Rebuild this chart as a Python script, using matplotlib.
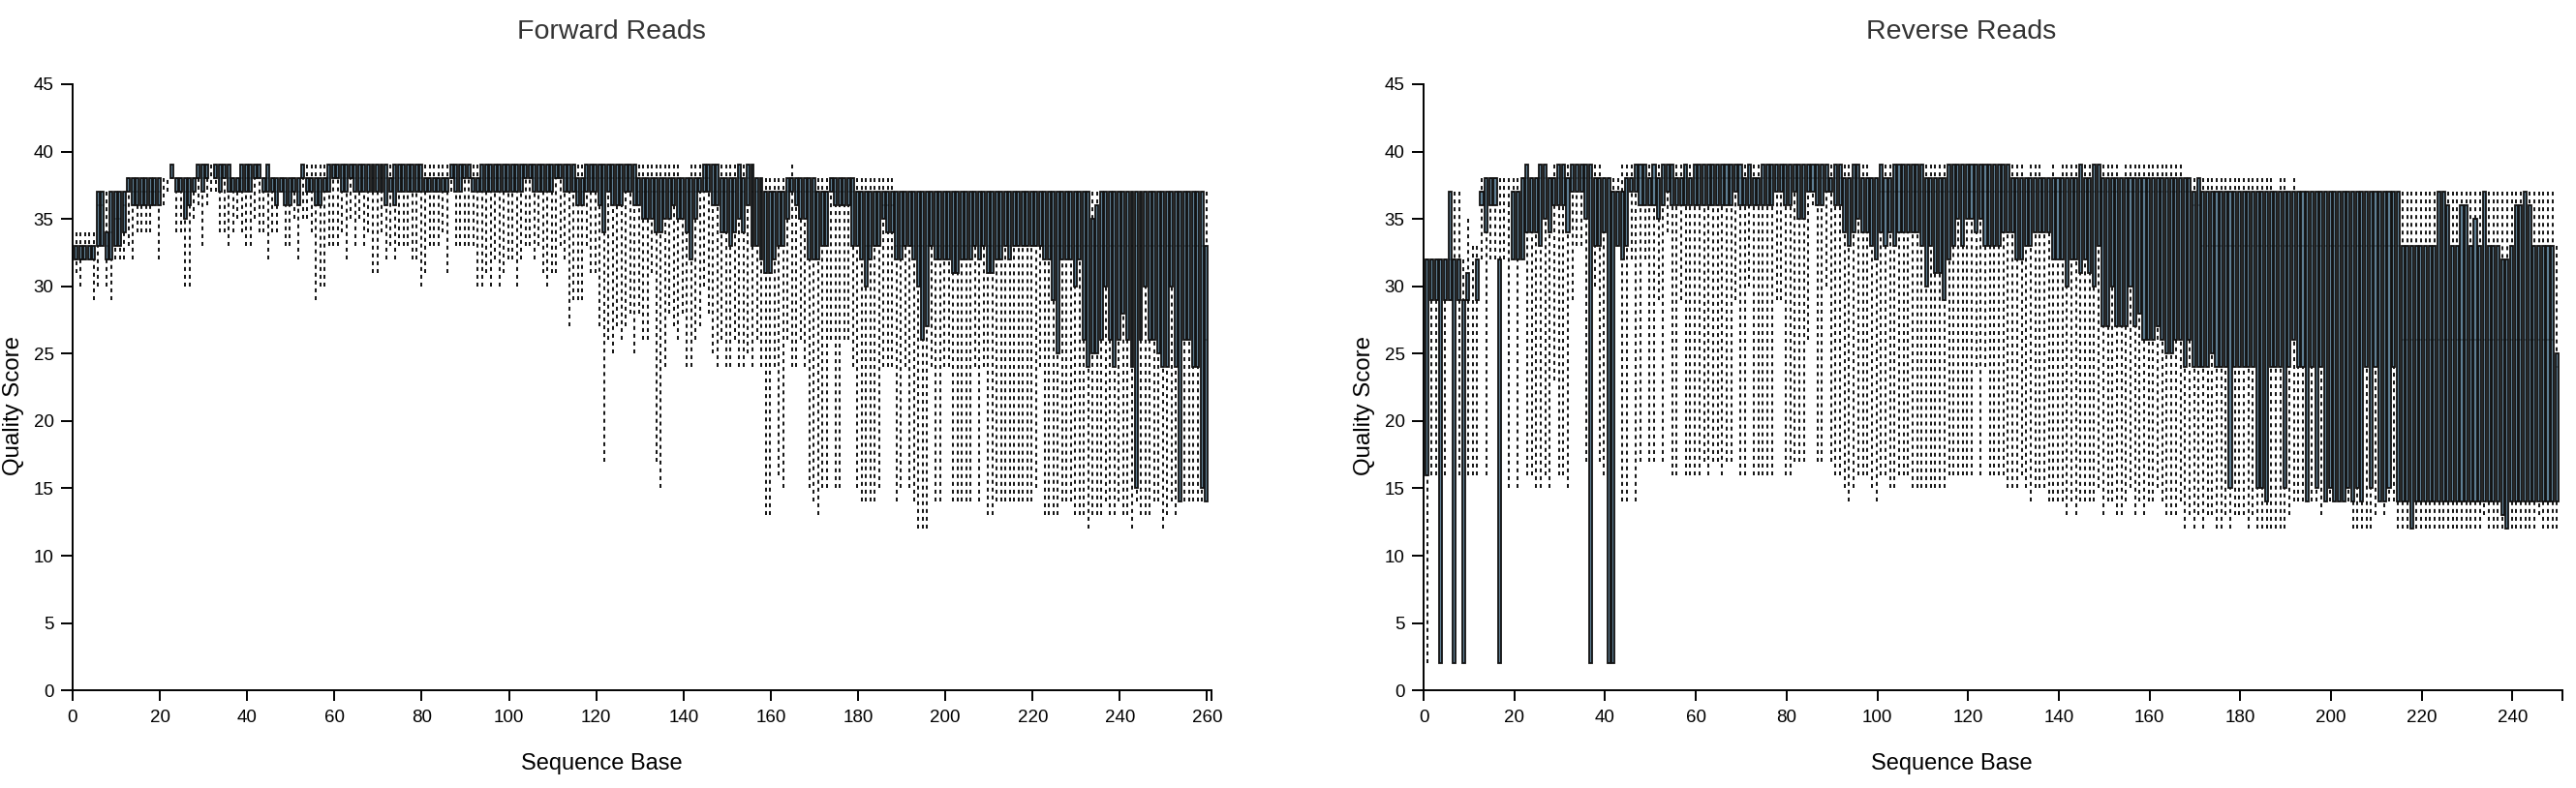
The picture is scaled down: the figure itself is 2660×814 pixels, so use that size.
import numpy as np
import matplotlib
matplotlib.use("Agg")
import matplotlib.pyplot as plt

plt.rcParams["font.family"] = ["Liberation Sans", "DejaVu Sans"]
plt.rcParams["lines.scale_dashes"] = False

# Forward reads, one value per base (1..260)
fw_low = [
    31,30,32,32,29,30,33,30,29,32, 32,32,33,32,34,34,34,34,36,32,
    36,37,38,34,34,30,30,35,36,33, 36,37,37,34,34,33,34,35,34,33,
    33,35,34,34,32,34,34,37,33,33, 35,32,35,35,34,29,30,30,33,33,
    33,34,32,35,33,35,33,34,31,31, 34,32,33,32,33,33,33,32,32,30,
    31,33,33,33,34,31,37,33,33,33, 33,33,30,30,31,30,32,30,31,32,
    32,30,32,33,33,32,33,31,30,31, 31,33,32,27,29,29,29,33,31,31,
    27,17,26,25,27,26,27,28,25,28, 26,26,31,17,15,24,28,27,26,28,
    24,24,26,27,30,28,25,24,26,24, 24,26,24,24,25,24,26,24,13,13,
    24,16,15,26,24,24,26,24,15,14, 13,15,15,26,15,15,26,26,24,15,
    14,14,14,14,15,24,24,24,14,15, 24,15,14,12,12,12,24,14,14,24,
    24,14,14,14,14,14,24,14,24,13, 13,14,14,14,14,14,14,14,14,14,
    15,24,13,13,13,13,14,14,14,13, 13,13,12,13,13,13,14,13,13,14,
    13,13,12,14,13,13,13,14,14,12, 13,14,13,14,14,14,14,14,14,14,
]
fw_q1 = [
    32,32,32,32,32,33,33,32,32,33, 33,34,37,36,36,36,36,36,36,36,
    38,38,38,37,37,35,36,37,38,37, 38,38,38,37,38,37,37,37,37,37,
    37,38,38,37,37,37,36,37,36,36, 37,36,38,37,37,36,36,37,37,38,
    38,37,37,38,37,37,37,37,37,37, 37,36,37,36,37,37,37,37,37,37,
    37,37,37,37,37,37,38,37,37,38, 38,37,37,37,37,37,37,37,37,37,
    37,37,37,38,38,37,37,37,37,37, 38,38,37,37,37,36,36,37,37,37,
    36,34,37,36,36,36,37,37,36,36, 35,35,35,34,34,35,35,36,35,35,
    34,32,35,37,37,37,36,36,34,34, 33,34,35,34,36,33,33,32,31,31,
    32,33,33,35,37,36,35,35,32,32, 32,33,33,37,36,36,36,36,33,33,
    32,30,32,33,33,35,34,34,32,32, 33,33,32,30,26,27,33,32,32,32,
    32,31,31,32,32,32,33,32,33,31, 31,32,32,33,32,33,33,33,33,33,
    33,33,32,32,29,25,32,32,32,30, 32,26,24,25,25,26,30,26,24,26,
    28,26,24,15,26,30,26,26,25,24, 24,30,24,14,26,26,24,24,15,14,
]
fw_med = [
    32,32,32,32,32,36,36,33,34,35, 35,36,38,37,37,37,37,37,37,37,
    38,38,38,38,38,37,37,38,38,38, 38,38,38,38,38,38,38,38,38,38,
    38,38,38,38,38,38,37,38,37,37, 38,37,38,38,38,37,37,38,38,38,
    38,38,38,38,38,38,38,38,38,38, 38,38,38,38,38,38,38,38,38,38,
    38,38,38,38,38,38,38,38,38,38, 38,38,38,38,38,38,38,38,38,38,
    38,38,38,38,38,38,38,38,38,38, 38,38,38,38,38,37,37,38,38,38,
    38,38,38,38,38,38,38,38,38,37, 37,37,37,37,37,37,37,37,37,37,
    37,37,37,38,38,38,37,37,37,37, 37,37,38,37,38,37,37,37,37,37,
    37,37,37,37,38,37,37,37,37,37, 37,37,37,38,37,37,37,37,37,37,
    37,33,33,33,33,36,36,36,33,33, 33,33,33,33,33,33,33,33,33,33,
    33,33,33,33,33,33,33,33,33,33, 33,33,33,33,33,33,33,33,33,33,
    33,33,33,33,33,33,33,33,33,33, 33,33,33,33,33,33,33,33,33,33,
    33,33,33,33,33,33,33,33,33,33, 33,33,33,33,33,33,33,33,33,26,
]
fw_q3 = [
    33,33,33,33,33,37,37,34,37,37, 37,37,38,38,38,38,38,38,38,38,
    38,38,39,38,38,38,38,38,39,39, 39,38,39,39,39,39,38,38,39,39,
    39,39,39,38,39,38,38,38,38,38, 38,38,39,38,38,38,38,38,39,39,
    39,39,39,39,39,39,39,39,39,39, 39,39,38,39,39,39,39,39,39,39,
    38,38,38,38,38,38,39,39,39,39, 39,38,38,39,39,39,39,39,39,39,
    39,39,39,39,39,39,39,39,39,39, 39,39,39,39,39,38,38,39,39,39,
    39,39,39,39,39,39,39,39,39,38, 38,38,38,38,38,38,38,38,38,38,
    38,38,38,38,39,39,39,39,38,38, 38,38,39,38,39,39,38,38,37,37,
    37,37,37,38,38,38,38,38,38,38, 37,37,37,38,38,38,38,38,38,37,
    37,37,37,37,37,37,37,37,37,37, 37,37,37,37,37,37,37,37,37,37,
    37,37,37,37,37,37,37,37,37,37, 37,37,37,37,37,37,37,37,37,37,
    37,37,37,37,37,37,37,37,37,37, 37,37,37,35,36,37,37,37,37,37,
    37,37,37,37,37,37,37,37,37,37, 37,37,37,37,37,37,37,37,37,33,
]
fw_high = [
    34,34,34,34,34,37,37,37,37,37, 37,37,38,38,38,38,38,38,38,38,
    38,38,39,38,38,38,38,38,39,39, 39,39,39,39,39,39,38,38,39,39,
    39,39,39,38,39,38,38,38,38,38, 38,38,39,39,39,39,39,39,39,39,
    39,39,39,39,39,39,39,39,39,39, 39,39,39,39,39,39,39,39,39,39,
    39,39,39,39,39,39,39,39,39,39, 39,39,39,39,39,39,39,39,39,39,
    39,39,39,39,39,39,39,39,39,39, 39,39,39,39,39,39,39,39,39,39,
    39,39,39,39,39,39,39,39,39,39, 39,39,39,39,39,39,39,39,39,38,
    38,39,39,39,39,39,39,39,39,39, 39,39,39,39,39,39,38,38,38,38,
    38,38,38,38,39,38,38,38,38,38, 38,38,38,38,38,38,38,38,38,38,
    38,38,38,38,38,38,38,38,37,37, 37,37,37,37,37,37,37,37,37,37,
    37,37,37,37,37,37,37,37,37,37, 37,37,37,37,37,37,37,37,37,37,
    37,37,37,37,37,37,37,37,37,37, 37,37,37,37,37,37,37,37,37,37,
    37,37,37,37,37,37,37,37,37,37, 37,37,37,37,37,37,37,37,37,37,
]

# Reverse reads, one value per base (1..250)
rv_low = [
    2,16,16,2,16,29,2,16,2,16, 16,16,32,16,32,32,2,32,15,32,
    15,32,16,16,15,15,16,15,23,16, 16,15,29,33,33,17,2,30,17,16,
    2,2,33,14,14,32,14,17,32,17, 17,29,17,34,16,16,29,16,16,16,
    16,17,16,17,17,16,17,17,29,16, 16,30,16,16,16,16,16,29,29,16,
    16,17,17,17,26,36,17,17,30,17, 16,16,15,14,15,16,16,16,15,14,
    16,16,15,15,16,16,16,15,15,15, 15,15,15,15,15,16,16,16,16,16,
    16,24,16,24,16,16,16,16,15,15, 15,16,15,14,15,15,15,14,14,14,
    14,13,14,13,14,14,14,14,15,13, 14,14,13,13,14,15,13,14,13,14,
    14,15,14,13,13,13,14,12,13,12, 13,12,13,13,12,12,13,12,13,13,
    13,12,13,12,12,12,12,12,12,12, 13,14,14,14,14,14,14,13,14,14,
    14,14,14,14,12,12,12,12,12,13, 14,13,14,14,12,12,12,12,12,12,
    12,12,12,12,12,12,12,12,12,12, 12,12,12,13,12,12,12,12,12,12,
    12,12,12,12,12,13,12,12,12,12,
]
rv_q1 = [
    16,29,29,2,29,29,2,29,2,29, 29,29,36,34,36,36,2,36,36,32,
    32,32,34,34,34,33,35,34,36,36, 36,34,37,37,37,35,2,33,33,34,
    2,2,33,32,33,37,37,36,36,36, 36,35,36,37,36,36,36,36,36,36,
    36,36,36,36,36,36,36,36,37,36, 36,36,36,36,36,36,36,37,37,36,
    36,37,35,35,37,37,36,36,37,37, 36,36,34,33,34,35,34,34,33,32,
    34,33,34,33,34,34,34,34,34,33, 30,33,31,31,29,32,33,35,33,35,
    35,34,35,33,33,33,33,34,34,34, 32,32,33,33,34,34,34,34,32,32,
    32,30,32,32,31,32,31,30,33,27, 27,30,27,27,27,30,27,28,26,26,
    26,27,26,25,25,26,26,24,26,24, 24,24,24,25,24,24,24,15,24,24,
    24,24,24,15,15,14,24,24,24,15, 24,26,24,24,14,24,15,24,14,15,
    14,14,14,15,14,15,14,24,15,24, 14,14,15,24,14,14,14,12,14,14,
    14,14,14,14,14,14,14,14,14,14, 14,14,14,14,14,14,14,13,12,14,
    14,14,14,14,14,14,14,14,14,14,
]
rv_med = [
    32,32,32,32,32,32,32,32,29,29, 29,32,37,38,38,38,32,36,36,37,
    37,38,38,38,38,38,38,38,38,38, 38,38,38,38,38,38,38,38,38,38,
    38,37,37,37,38,38,38,38,38,38, 38,38,38,38,38,38,38,38,38,38,
    38,38,38,38,38,38,38,38,38,38, 38,38,38,38,38,38,38,38,38,38,
    38,38,38,38,38,38,38,38,38,38, 38,38,38,38,38,38,38,38,38,38,
    37,37,37,37,37,37,37,37,37,37, 37,37,37,37,37,37,37,37,37,37,
    37,37,37,37,37,37,37,37,37,37, 37,37,37,37,37,37,37,37,37,37,
    37,37,37,37,37,37,37,37,37,37, 37,37,37,37,37,37,37,37,37,37,
    37,37,37,37,37,37,37,37,37,36, 36,33,33,33,33,33,33,33,33,33,
    33,33,33,33,33,33,33,33,33,33, 33,33,33,33,33,33,33,33,33,33,
    33,33,33,33,33,33,33,33,33,33, 33,33,33,33,33,26,26,26,26,26,
    26,26,26,26,26,26,26,26,26,26, 26,26,26,26,26,26,26,26,26,26,
    26,26,26,26,26,26,26,26,26,24,
]
rv_q3 = [
    32,32,32,32,32,37,32,32,29,31, 29,32,37,38,38,38,32,36,36,37,
    37,38,39,38,38,39,39,38,38,39, 39,38,39,39,39,39,39,38,38,38,
    38,37,37,37,38,38,39,39,39,38, 39,38,39,39,39,38,38,39,38,39,
    39,39,39,39,39,39,39,39,39,39, 38,39,38,38,39,39,39,39,39,39,
    39,39,39,39,39,39,39,39,39,38, 39,39,38,38,39,39,38,38,38,38,
    39,38,38,39,39,39,39,39,39,39, 38,38,38,38,38,39,39,39,39,39,
    39,39,39,39,39,39,39,39,39,38, 38,38,38,38,38,38,38,38,38,38,
    38,38,38,38,39,38,38,39,39,38, 38,38,38,38,38,38,38,38,38,38,
    38,38,38,38,38,38,38,38,38,37, 38,37,37,37,37,37,37,37,37,37,
    37,37,37,37,37,37,37,37,37,37, 37,37,37,37,37,37,37,37,37,37,
    37,37,37,37,37,37,37,37,37,37, 37,37,37,37,37,33,33,33,33,33,
    33,33,33,37,37,36,33,33,36,36, 33,35,33,37,33,33,33,32,32,33,
    36,36,37,36,33,33,33,33,33,25,
]
rv_high = [
    32,32,32,32,32,37,37,37,32,35, 33,33,38,38,38,38,38,38,38,38,
    38,38,39,38,38,39,39,38,39,39, 39,39,39,39,39,39,39,39,39,38,
    38,38,38,39,39,39,39,39,39,39, 39,39,39,39,39,39,39,39,39,39,
    39,39,39,39,39,39,39,39,39,39, 39,39,39,39,39,39,39,39,39,39,
    39,39,39,39,39,39,39,39,39,39, 39,39,39,39,39,39,39,39,38,38,
    39,39,39,39,39,39,39,39,39,39, 39,39,39,39,39,39,39,39,39,39,
    39,39,39,39,39,39,39,39,39,39, 39,39,38,39,39,39,38,38,39,38,
    39,39,39,39,39,39,39,39,39,39, 39,39,39,38,39,39,39,39,39,39,
    39,39,39,39,39,39,39,38,38,38, 38,38,38,38,38,38,38,38,38,38,
    38,38,38,38,38,38,38,37,38,38, 37,38,37,37,37,37,37,37,37,37,
    37,37,37,37,37,37,37,37,37,37, 37,37,37,37,37,37,37,37,37,37,
    37,37,37,37,37,37,37,37,37,37, 37,37,37,37,37,37,37,37,37,37,
    37,37,37,37,37,37,37,37,37,33,
]

x_ticks = [0, 20, 40, 60, 80, 100, 120, 140, 160, 180, 200, 220, 240]
y_ticks = [0, 5, 10, 15, 20, 25, 30, 35, 40, 45]


def draw_panel(ax, low, q1, med, q3, high, x_max, xticks):
    low, q1, med, q3, high = map(np.array, (low, q1, med, q3, high))
    x = np.arange(1, len(q1) + 1) - 0.2

    # dashes start from the far end of each whisker
    dash = (0, (2.9, 2.9))
    ax.vlines(x, low, q1, colors="black", linewidth=1.3, linestyles=[dash], capstyle="butt", zorder=1)
    ax.vlines(x, high, q3, colors="black", linewidth=1.3, linestyles=[dash], capstyle="butt", zorder=1)

    # the stroke takes up most of each box, only a thin strip of fill is left
    has_box = q3 > q1
    ax.bar(x[has_box], (q3 - q1)[has_box], bottom=q1[has_box], width=0.66,
           facecolor="#5f7f94", edgecolor="#111111", linewidth=1.3, zorder=2)
    ax.hlines(med[has_box], x[has_box] - 0.33, x[has_box] + 0.33, colors="black", linewidth=0.35, zorder=3)

    ax.set_xlim(0, x_max)
    ax.set_ylim(0, 45)
    ax.set_xticks(xticks)
    ax.set_yticks(y_ticks)
    ax.spines["top"].set_visible(False)
    ax.spines["right"].set_visible(False)
    ax.spines["left"].set_linewidth(1.4)
    ax.spines["bottom"].set_linewidth(1.4)
    ax.tick_params(axis="x", length=8, width=1.4, labelsize=13.5, pad=6)
    ax.tick_params(axis="y", length=9, width=1.4, labelsize=13.5, pad=5)


W, H = 2660, 814
fig = plt.figure(figsize=(W / 100, H / 100), dpi=100)
fig.patch.set_facecolor("white")

ax_fw = fig.add_axes([75 / W, 1 - 713.3 / H, 1176 / W, 626.4 / H])
ax_rv = fig.add_axes([1470 / W, 1 - 713.3 / H, 1176 / W, 626.4 / H])

draw_panel(ax_fw, fw_low, fw_q1, fw_med, fw_q3, fw_high, 261, x_ticks + [260])
draw_panel(ax_rv, rv_low, rv_q1, rv_med, rv_q3, rv_high, 251, x_ticks)
# the domain end of each axis also gets a tick, without a label
for ax, x_max in ((ax_fw, 261), (ax_rv, 251)):
    ax.vlines(x_max, -0.8, 0, colors="black", linewidth=1.4, clip_on=False)
    ax.set_ylim(0, 45)

for x_mid, title in ((631, "Forward Reads"), (2025, "Reverse Reads")):
    fig.text(x_mid / W, 1 - 33.5 / H, title, ha="center", va="center", fontsize=20.5, color="#333333")
for x_mid, label in ((621, "Sequence Base"), (2015, "Sequence Base")):
    fig.text(x_mid / W, 1 - 789.5 / H, label, ha="center", va="center", fontsize=17, color="black")
for x_mid in (14, 1409):
    fig.text(x_mid / W, 1 - 419 / H, "Quality Score", rotation=90, ha="center", va="center", fontsize=17.3, color="black")

fig.savefig("out.png", dpi=100, facecolor="white")
